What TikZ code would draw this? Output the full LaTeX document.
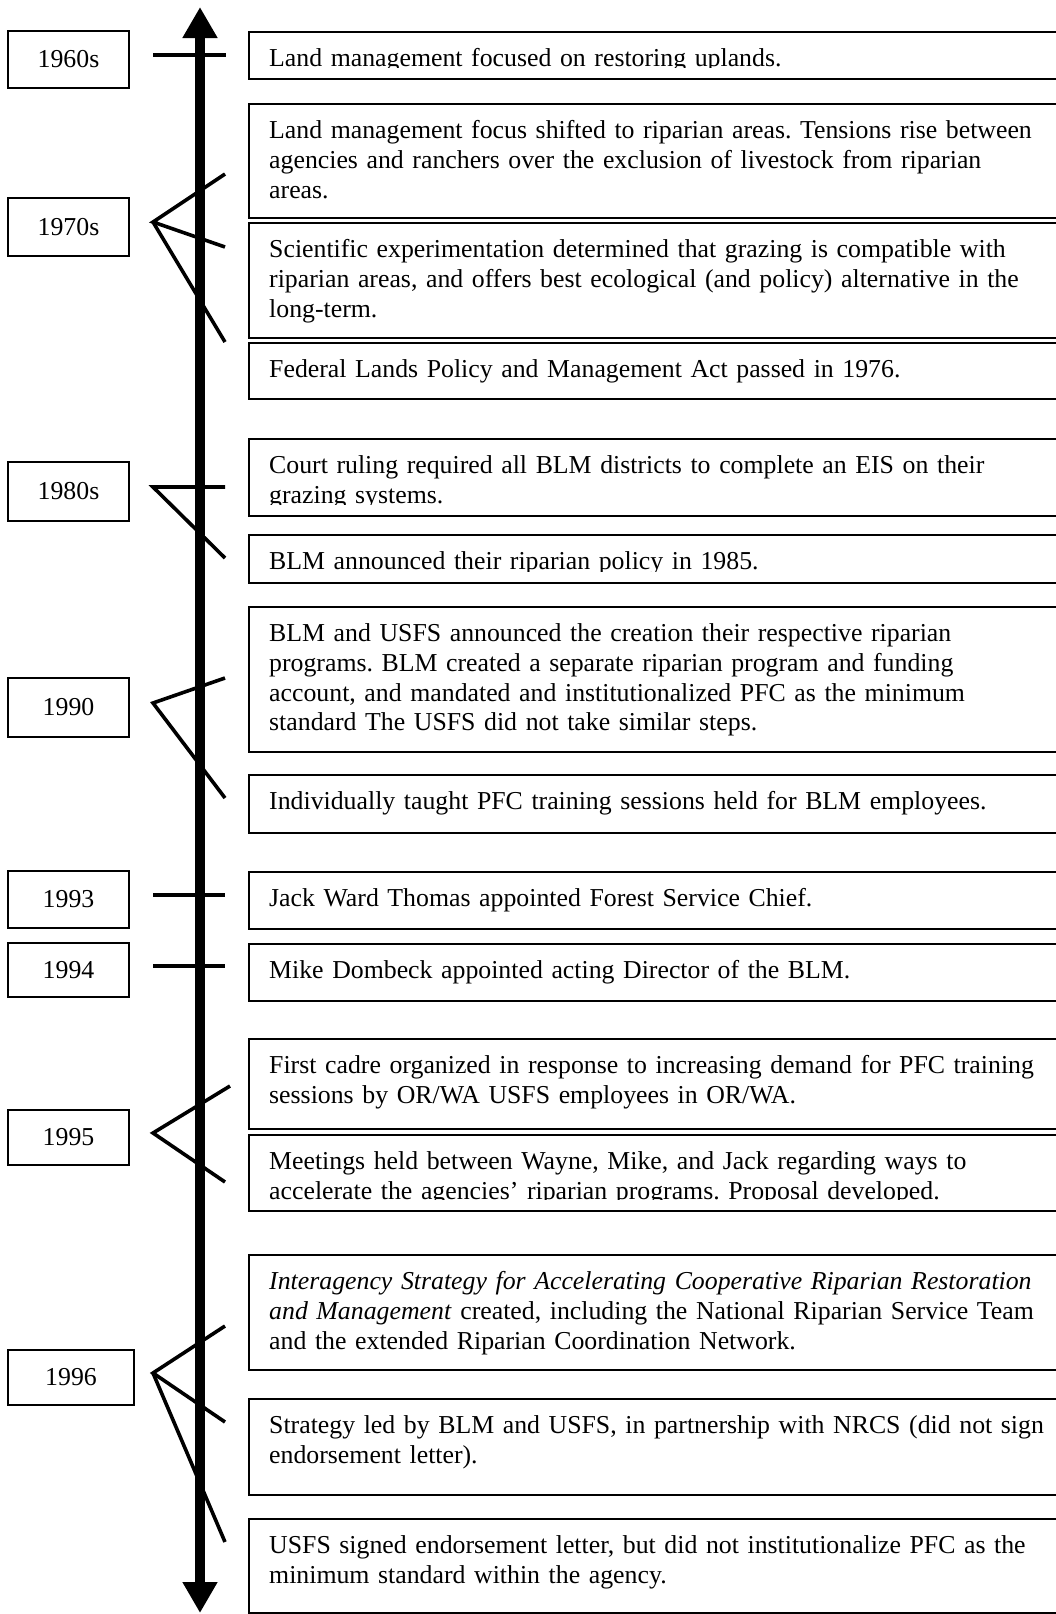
\documentclass[tikz,border=0pt]{standalone}
\usepackage{fontspec}
\setmainfont{Liberation Serif}
\usetikzlibrary{arrows.meta}
\frenchspacing
\newcommand\evfont{\fontsize{25.8pt}{29.7pt}\selectfont}
\newcommand\EvBox[4]{% name, top, bottom, text
  \node[evbox, minimum height={(#3-#2)*1pt}] (#1) at (248,#2) {};
  \begin{scope}
    \clip (240,#2) rectangle (1100,#3-11);
    \node[evtext] (#1t) at (269,#2+11.5) {\rule{0pt}{24pt}#4};
  \end{scope}
}
\begin{document}
\begin{tikzpicture}[x=1pt,y=-1pt,
  yearbox/.style={draw, line width=1.6pt, inner sep=0pt, font=\evfont},
  evbox/.style={draw, line width=1.6pt, inner sep=0pt, anchor=north west, minimum width=830pt},
  evtext/.style={inner sep=0pt, anchor=north west, text width=900pt, align=left, font=\evfont},
  tickline/.style={line width=3.6pt}]
\useasboundingbox (0,0) rectangle (1056,1614);
\fill[white] (0,0) rectangle (1056,1614);

% main axis
\coordinate (axtop) at (200,7);
\coordinate (axbot) at (200,1613);
\draw[line width=10pt, {Triangle[length=31pt,width=33pt]}-{Triangle[length=31pt,width=33pt]}] (axtop) -- (axbot);

% year boxes
\node[yearbox, minimum width=121pt, minimum height=57pt] (y60) at (68.5,59.5) {1960s};
\node[yearbox, minimum width=121pt, minimum height=58pt] (y70) at (68.5,227) {1970s};
\node[yearbox, minimum width=121pt, minimum height=59pt] (y80) at (68.5,491.5) {1980s};
\node[yearbox, minimum width=121pt, minimum height=59pt] (y90) at (68.5,707.5) {1990};
\node[yearbox, minimum width=121pt, minimum height=57pt] (y93) at (68.5,899.5) {1993};
\node[yearbox, minimum width=121pt, minimum height=54pt] (y94) at (68.5,970) {1994};
\node[yearbox, minimum width=121pt, minimum height=55pt] (y95) at (68.5,1137.5) {1995};
\node[yearbox, minimum width=126pt, minimum height=55pt] (y96) at (71,1377.5) {1996};

% event boxes
\EvBox{e1}{31}{78}{Land management focused on restoring uplands.}
\EvBox{e2}{103}{217}{Land management focus shifted to riparian areas. Tensions rise between\\agencies and ranchers over the exclusion of livestock from riparian\\areas.}
\EvBox{e3}{222}{337}{Scientific experimentation determined that grazing is compatible with\\riparian areas, and offers best ecological (and policy) alternative in the\\long-term.}
\EvBox{e4}{342}{398}{Federal Lands Policy and Management Act passed in 1976.}
\EvBox{e5}{438}{515}{Court ruling required all BLM districts to complete an EIS on their\\grazing systems.}
\EvBox{e6}{534}{582}{BLM announced their riparian policy in 1985.}
\EvBox{e7}{606}{751}{BLM and USFS announced the creation their respective riparian\\programs. BLM created a separate riparian program and funding\\account, and mandated and institutionalized PFC as the minimum\\standard The USFS did not take similar steps.}
\EvBox{e8}{774}{832}{Individually taught PFC training sessions held for BLM employees.}
\EvBox{e9}{871}{928}{Jack Ward Thomas appointed Forest Service Chief.}
\EvBox{e10}{943}{1000}{Mike Dombeck appointed acting Director of the BLM.}
\EvBox{e11}{1038}{1128}{First cadre organized in response to increasing demand for PFC training\\sessions by OR/WA USFS employees in OR/WA.}
\EvBox{e12}{1134}{1210}{Meetings held between Wayne, Mike, and Jack regarding ways to\\accelerate the agencies’ riparian programs. Proposal developed.}
\EvBox{e13}{1254}{1369}{\textit{Interagency Strategy for Accelerating Cooperative Riparian Restoration}\\\textit{and Management} created, including the National Riparian Service Team\\and the extended Riparian Coordination Network.}
\EvBox{e14}{1398}{1494}{Strategy led by BLM and USFS, in partnership with NRCS (did not sign\\endorsement letter).}
\EvBox{e15}{1518}{1612}{USFS signed endorsement letter, but did not institutionalize PFC as the\\minimum standard within the agency.}

% connector coordinates
\coordinate (a60) at (153,55);   \coordinate (t60) at (226,55);
\coordinate (a70) at (153,222);  \coordinate (t70a) at (225,174); \coordinate (t70b) at (225,247); \coordinate (t70c) at (225,342);
\coordinate (a80) at (153,487);  \coordinate (t80a) at (225,487); \coordinate (t80b) at (225,558);
\coordinate (a90) at (153,703);  \coordinate (t90a) at (225,678); \coordinate (t90b) at (225,798);
\coordinate (a93) at (153,895);  \coordinate (t93) at (225,895);
\coordinate (a94) at (153,966);  \coordinate (t94) at (225,966);
\coordinate (a95) at (153,1133); \coordinate (t95a) at (230,1086); \coordinate (t95b) at (225,1182);
\coordinate (a96) at (153,1373); \coordinate (t96a) at (225,1326); \coordinate (t96b) at (225,1422); \coordinate (t96c) at (225,1542);

\draw[tickline] (a60) -- (t60);
\draw[tickline] (t70a) -- (a70) -- (t70b);
\draw[tickline] (a70) -- (t70c);
\draw[tickline] (t80a) -- (a80) -- (t80b);
\draw[tickline] (t90a) -- (a90) -- (t90b);
\draw[tickline] (a93) -- (t93);
\draw[tickline] (a94) -- (t94);
\draw[tickline] (t95a) -- (a95) -- (t95b);
\draw[tickline] (t96a) -- (a96) -- (t96b);
\draw[tickline] (a96) -- (t96c);
\end{tikzpicture}
\end{document}
